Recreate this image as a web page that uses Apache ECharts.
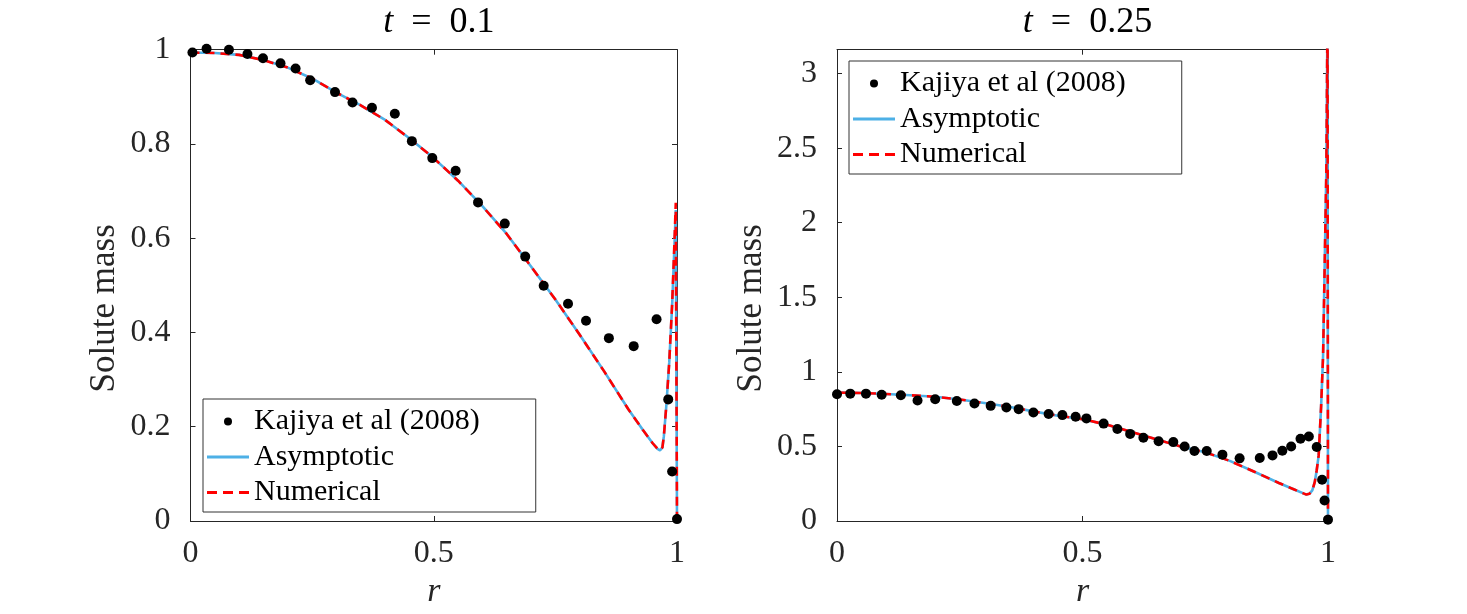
<!DOCTYPE html>
<html>
<head>
<meta charset="utf-8">
<script src="https://cdn.jsdelivr.net/npm/echarts@6/dist/echarts.min.js"></script>
<style>
html,body{margin:0;padding:0;background:#fff;}
#chart{width:1467px;height:614px;}
</style>
</head>
<body>
<div id="chart"></div>
<script>
// ---- Data ----
// Left panel (t = 0.1)
const leftDataR    = [0.004,0.033,0.079,0.117,0.149,0.185,0.216,0.246,0.297,0.333,0.373,0.420,0.455,0.497,0.545,0.591,0.646,0.688,0.726,0.776,0.813,0.860,0.911,0.958,0.982,0.990,1.0];
const leftDataMass = [0.994,1.002,1.0,0.991,0.982,0.971,0.960,0.935,0.910,0.888,0.877,0.864,0.806,0.770,0.743,0.676,0.631,0.561,0.499,0.461,0.425,0.388,0.371,0.428,0.258,0.105,0.004];
const leftCurveR       = [0,0.05,0.1,0.15,0.2,0.25,0.3,0.35,0.4,0.45,0.5,0.55,0.6,0.65,0.7,0.75,0.8,0.85,0.9,0.93,0.95,0.96,0.965,0.97,0.973,0.978,0.984,0.99,0.994,0.9975,1.0];
const leftAsymptotic   = [0.994,0.993,0.989,0.978,0.962,0.939,0.909,0.882,0.851,0.812,0.770,0.722,0.668,0.609,0.540,0.470,0.395,0.318,0.237,0.193,0.165,0.153,0.150,0.156,0.180,0.244,0.336,0.457,0.564,0.660,0];
const leftNumerical    = [0.994,0.993,0.989,0.978,0.962,0.939,0.909,0.882,0.851,0.812,0.770,0.722,0.668,0.609,0.540,0.470,0.395,0.318,0.237,0.193,0.165,0.153,0.150,0.156,0.180,0.244,0.336,0.460,0.570,0.675,0];

// Right panel (t = 0.25)
const rightDataR    = [0,0.027,0.059,0.091,0.130,0.164,0.200,0.244,0.280,0.313,0.345,0.370,0.400,0.431,0.459,0.486,0.508,0.543,0.571,0.597,0.624,0.655,0.685,0.708,0.728,0.753,0.785,0.820,0.861,0.887,0.907,0.925,0.944,0.961,0.977,0.988,0.993,1.0];
const rightDataMass = [0.850,0.854,0.854,0.847,0.843,0.808,0.816,0.805,0.788,0.772,0.761,0.750,0.728,0.717,0.710,0.699,0.688,0.653,0.617,0.584,0.558,0.535,0.529,0.500,0.469,0.469,0.445,0.420,0.423,0.440,0.471,0.500,0.551,0.566,0.496,0.277,0.137,0.009];
const rightCurveR     = [0,0.05,0.1,0.15,0.2,0.25,0.3,0.35,0.4,0.45,0.5,0.55,0.6,0.65,0.7,0.75,0.8,0.85,0.9,0.93,0.95,0.956,0.962,0.968,0.973,0.977,0.981,0.986,0.990,0.993,0.9966,0.999,1.0];
const rightAsymptotic = [0.861,0.858,0.852,0.843,0.833,0.815,0.791,0.766,0.735,0.706,0.683,0.645,0.597,0.548,0.499,0.461,0.403,0.330,0.255,0.213,0.185,0.177,0.182,0.205,0.26,0.34,0.44,0.77,1.11,1.67,2.34,3.4,0];
const rightNumerical  = [0.861,0.858,0.852,0.843,0.833,0.815,0.791,0.766,0.735,0.706,0.683,0.645,0.597,0.548,0.499,0.461,0.403,0.330,0.255,0.213,0.185,0.177,0.182,0.205,0.26,0.34,0.44,0.77,1.11,1.67,2.34,3.4,0];

const seriesNames = ['Kajiya et al (2008)', 'Asymptotic', 'Numerical'];
const panelTitles = ['0.1', '0.25'];
const xLabel = 'r';
const yLabel = 'Solute mass';

// ---- helpers ----
const zip = (xs, ys) => xs.map((x, i) => [x, ys[i]]);
const FONT = "'Liberation Serif','Times New Roman',serif";
const AX = '#262626';
const BLUE = '#4DB0E6';
const RED = '#FF0000';
const SOLID_ICON = 'path://M0,0H42V3H0Z';
const DASH_ICON = 'path://M0,0H10V3H0Z M16,0H26V3H16Z M32,0H42V3H32Z';

function bottomX(gi){
  return {
    type:'value', gridIndex:gi, position:'bottom', min:0, max:1, interval:0.5,
    name:xLabel, nameLocation:'middle', nameGap:54,
    nameTextStyle:{fontFamily:FONT, fontStyle:'italic', fontSize:34, color:AX},
    axisLine:{show:true, onZero:false, lineStyle:{color:AX, width:1}},
    axisTick:{show:true, inside:true, length:5, lineStyle:{color:AX}},
    axisLabel:{show:true, margin:17, fontFamily:FONT, fontSize:32, color:AX},
    splitLine:{show:false}
  };
}
function topX(gi){
  return {
    type:'value', gridIndex:gi, position:'top', min:0, max:1, interval:0.5,
    axisLine:{show:true, onZero:false, lineStyle:{color:AX, width:1}},
    axisTick:{show:true, inside:true, length:5, lineStyle:{color:AX}},
    axisLabel:{show:false}, splitLine:{show:false}
  };
}
function leftY(gi, max, interval){
  return {
    type:'value', gridIndex:gi, position:'left', min:0, max:max, interval:interval,
    name:yLabel, nameLocation:'middle', nameGap:68,
    nameTextStyle:{fontFamily:FONT, fontSize:35, color:AX, padding:[0,46,0,0]},
    axisLine:{show:true, onZero:false, lineStyle:{color:AX, width:1}},
    axisTick:{show:true, inside:true, length:5, lineStyle:{color:AX}},
    axisLabel:{show:true, margin:20, fontFamily:FONT, fontSize:32, color:AX, showMaxLabel: max === 1},
    splitLine:{show:false}
  };
}
function rightY(gi, max, interval){
  return {
    type:'value', gridIndex:gi, position:'right', min:0, max:max, interval:interval,
    axisLine:{show:true, onZero:false, lineStyle:{color:AX, width:1}},
    axisTick:{show:true, inside:true, length:5, lineStyle:{color:AX}},
    axisLabel:{show:false}, splitLine:{show:false}
  };
}
function legendAt(left, top){
  return {
    orient:'vertical', left:left, top:top,
    data:[
      {name:seriesNames[0], icon:'circle'},
      {name:seriesNames[1], icon:SOLID_ICON},
      {name:seriesNames[2], icon:DASH_ICON}
    ],
    itemWidth:42, itemHeight:8, itemGap:2.5,
    padding:[6,56,3,4],
    backgroundColor:'#ffffff', borderColor:'#333333', borderWidth:1, borderRadius:0,
    textStyle:{fontFamily:FONT, fontSize:30, color:'#000', lineHeight:33},
    selectedMode:false
  };
}
function panelSeries(xi, yi, cr, asym, num, dr, dm){
  return [
    {type:'line', name:seriesNames[1], xAxisIndex:xi, yAxisIndex:yi, data:zip(cr, asym),
     symbol:'none', showSymbol:false, lineStyle:{color:BLUE, width:2.6}, itemStyle:{color:BLUE}, z:2, animation:false},
    {type:'line', name:seriesNames[2], xAxisIndex:xi, yAxisIndex:yi, data:zip(cr, num),
     symbol:'none', showSymbol:false, lineStyle:{color:RED, width:2.6, type:[9,6]}, itemStyle:{color:RED}, z:3, animation:false},
    {type:'scatter', name:seriesNames[0], xAxisIndex:xi, yAxisIndex:yi, data:zip(dr, dm),
     symbol:'circle', symbolSize:10, itemStyle:{color:'#000', opacity:1}, clip:false, z:4, animation:false}
  ];
}

const chart = echarts.init(document.getElementById('chart'), null, {renderer:'canvas'});
const gridL = {left:190.5, top:49.7, width:486.5, height:471.5};
const gridR = {left:837, top:49.7, width:491, height:471.5};
const titleStyle = {fontFamily:FONT, fontSize:36, fontWeight:'normal', color:'#000',
  rich:{i:{fontFamily:FONT, fontStyle:'italic', fontSize:36, color:'#000'}}};

chart.setOption({
  animation:false,
  backgroundColor:'#ffffff',
  title:[
    {text:'{i|t}\u2002=\u2002' + panelTitles[0], left:433.8, top:0, textAlign:'center', textStyle:titleStyle},
    {text:'{i|t}\u2002=\u2002' + panelTitles[1], left:1082.5, top:0, textAlign:'center', textStyle:titleStyle}
  ],
  grid:[gridL, gridR],
  xAxis:[bottomX(0), bottomX(1), topX(0), topX(1)],
  yAxis:[leftY(0, 1, 0.2), leftY(1, 3.16, 0.5), rightY(0, 1, 0.2), rightY(1, 3.16, 0.5)],
  legend:[legendAt(203, 399), legendAt(849, 61)],
  series:[].concat(
    panelSeries(0, 0, leftCurveR, leftAsymptotic, leftNumerical, leftDataR, leftDataMass),
    panelSeries(1, 1, rightCurveR, rightAsymptotic, rightNumerical, rightDataR, rightDataMass)
  )
});
</script>
</body>
</html>
